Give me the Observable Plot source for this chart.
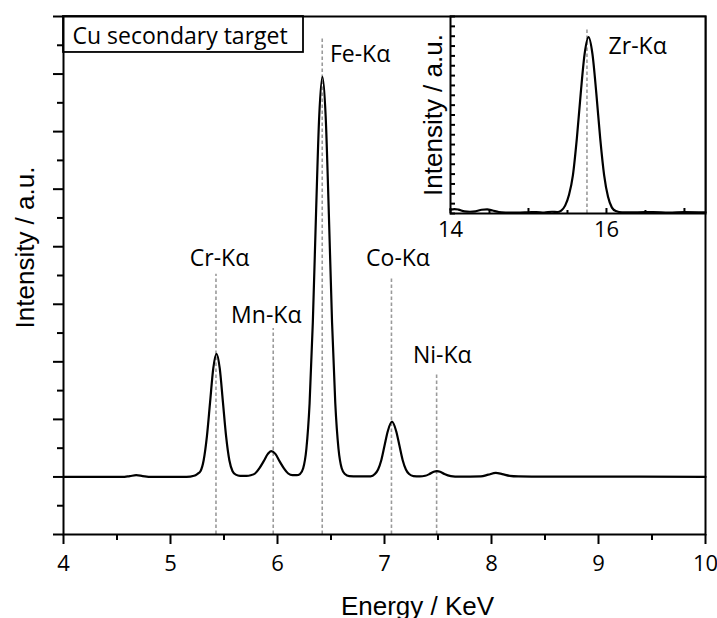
<!DOCTYPE html>
<html><head><meta charset="utf-8">
<script src="https://cdn.jsdelivr.net/npm/d3@7"></script>
<script src="https://cdn.jsdelivr.net/npm/@observablehq/plot@0.6"></script>
<style>
body{margin:0;background:#fff;}
#wrap{position:relative;width:717px;height:618px;overflow:hidden;background:#fff;}
#main{position:absolute;left:0;top:0;}
#inset{position:absolute;left:400px;top:0;}
</style></head>
<body><div id="wrap"><div id="main"></div><div id="inset"></div></div>
<script>
// ---- main spectrum (Energy keV, intensity a.u.) ----
const energy = [4.00,4.30,4.55,4.62,4.68,4.74,4.82,5.00,5.15,5.22,5.25,5.28,5.31,5.34,5.37,5.40,5.43,5.46,5.49,5.52,5.55,5.58,5.61,5.65,5.71,5.75,5.79,5.83,5.87,5.91,5.94,5.98,6.02,6.06,6.10,6.14,6.18,6.21,6.24,6.27,6.30,6.33,6.36,6.39,6.42,6.45,6.48,6.51,6.54,6.57,6.60,6.63,6.67,6.75,6.87,6.91,6.94,6.97,7.00,7.03,7.07,7.11,7.14,7.17,7.20,7.23,7.27,7.33,7.38,7.42,7.46,7.49,7.52,7.56,7.62,7.70,7.90,7.97,8.04,8.10,8.17,8.25,8.50,9.00,10.00];
const intensity = [0.00,0.00,0.00,0.015,0.03,0.015,0.00,0.00,0.00,0.02,0.05,0.10,0.29,0.70,1.30,1.89,2.14,1.89,1.30,0.70,0.29,0.10,0.04,0.02,0.02,0.03,0.06,0.15,0.27,0.40,0.45,0.40,0.27,0.15,0.06,0.03,0.03,0.05,0.15,0.49,1.28,2.68,4.57,6.27,6.95,6.27,4.57,2.68,1.28,0.49,0.15,0.05,0.015,0.01,0.01,0.05,0.13,0.29,0.54,0.79,0.96,0.79,0.54,0.29,0.13,0.05,0.015,0.01,0.02,0.05,0.09,0.10,0.09,0.05,0.015,0.005,0.01,0.04,0.07,0.05,0.02,0.01,0.005,0.005,0.00];

// ---- emission line markers ----
const lineNames = ["Cr-Kα","Mn-Kα","Fe-Kα","Co-Kα","Ni-Kα"];
const lineEnergy = [5.425,5.96,6.418,7.065,7.487];
const lineTop = [3.52,2.58,7.63,3.47,1.81];
const labelEnergy = [5.458,5.895,6.49,7.126,7.54];
const labelIntensity = [3.80,2.80,7.33,3.80,2.11];
const labelAnchor = ["middle","middle","start","middle","middle"];

// ---- main ticks ----
const xMajor = [4,5,6,7,8,9,10];
const xMinor = [4.5,5.5,6.5,7.5,8.5,9.5];
const yMajor = [-1,0,1,2,3,4,5,6,7,8];
const yMinor = [-0.5,0.5,1.5,2.5,3.5,4.5,5.5,6.5,7.5];

// ---- legend box ----
const boxTitle = "Cu secondary target";
const boxEnergy = [4, 6.243];
const boxIntensity = [7.375, 8];

// ---- inset spectrum ----
const insetEnergy = [14.00,14.05,14.10,14.18,14.25,14.32,14.40,14.47,14.54,14.62,14.72,14.85,15.00,15.10,15.20,15.30,15.37,15.42,15.47,15.52,15.57,15.62,15.67,15.72,15.77,15.82,15.87,15.92,15.97,16.02,16.07,16.12,16.20,16.40,16.60,16.80,17.00,17.27];
const insetIntensity = [0.40,0.45,0.40,0.22,0.18,0.22,0.38,0.42,0.30,0.15,0.10,0.08,0.12,0.15,0.10,0.18,0.15,0.30,0.80,1.90,3.90,7.60,12.2,16.2,17.9,16.2,12.2,7.60,3.90,1.70,0.60,0.25,0.12,0.12,0.15,0.10,0.15,0.12];
const insetLineName = "Zr-Kα";
const insetLineEnergy = 15.75;
const insetLineTop = 18.85;
const insetLabelEnergy = 16.40;
const insetLabelIntensity = 16.9;
const insetXMajor = [14,15,16,17];
const insetXMinor = [14.5,15.5,16.5];
const insetXLabels = [14,16];
const insetYTicks = [0,1,2,3,4,5,6,7,8,9,10,11,12,13,14,15,16,17,18,19,20];

const spectrum = energy.map((e,i)=>({e, v:intensity[i]}));
const lines = lineNames.map((n,i)=>({name:n, e:lineEnergy[i], top:lineTop[i], lx:labelEnergy[i], ly:labelIntensity[i], anchor:labelAnchor[i]}));
const insetSpec = insetEnergy.map((e,i)=>({e, v:insetIntensity[i]}));

const FONT = "Open Sans";
const AXF = "Liberation Sans";
const LF = 23;   // annotation font size
const TF = 22;   // tick label font size
const dash = {stroke:"#9a9a9a", strokeWidth:1.6, strokeDasharray:"3.5,2.5"};

const main = Plot.plot({
  width:717, height:618,
  marginLeft:63, marginRight:12, marginTop:16, marginBottom:84,
  style:{fontFamily:FONT, fontSize:TF+"px", background:"white", color:"black"},
  x:{domain:[4,10], label:null},
  y:{domain:[-1,8], label:null},
  marks:[
    Plot.ruleX(lines, {x:"e", y1:-1, y2:"top", ...dash}),
    Plot.line(spectrum, {x:"e", y:"v", stroke:"black", strokeWidth:2.2, curve:"monotone-x"}),
    Plot.rect([0], {x1:boxEnergy[0], x2:boxEnergy[1], y1:boxIntensity[0], y2:boxIntensity[1], stroke:"black", strokeWidth:1.8, fill:"white"}),
    Plot.text([boxTitle], {frameAnchor:"top-left", dx:9, dy:20, text:d=>d, textAnchor:"start", lineAnchor:"middle", fontSize:LF, fontFamily:FONT}),
    Plot.text(lines.filter(d=>d.anchor==="middle"), {x:"lx", y:"ly", text:"name", textAnchor:"middle", lineAnchor:"middle", fontSize:LF, fontFamily:FONT}),
    Plot.text(lines.filter(d=>d.anchor==="start"), {x:"lx", y:"ly", text:"name", textAnchor:"start", lineAnchor:"middle", fontSize:LF, fontFamily:FONT}),
    Plot.frame({stroke:"black", strokeWidth:2}),
    Plot.axisX({ticks:xMajor, tickSize:10, tickPadding:11, strokeWidth:2, label:null, tickFormat:d=>String(d), fontSize:TF, fontFamily:FONT}),
    Plot.axisX({ticks:xMinor, tickSize:6, strokeWidth:2, label:null, tickFormat:()=>""}),
    Plot.axisY({ticks:yMajor, tickSize:10, strokeWidth:2, label:null, tickFormat:()=>""}),
    Plot.axisY({ticks:yMinor, tickSize:6, strokeWidth:2, label:null, tickFormat:()=>""}),
    Plot.text(["Intensity / a.u."], {frameAnchor:"left", dx:-38, dy:-28, rotate:-90, text:d=>d, textAnchor:"middle", lineAnchor:"middle", fontSize:26, fontFamily:AXF}),
    Plot.text(["Energy / KeV"], {frameAnchor:"bottom", dx:33, dy:72, text:d=>d, textAnchor:"middle", lineAnchor:"middle", fontSize:26, fontFamily:AXF})
  ]
});
document.getElementById("main").appendChild(main);

const inset = Plot.plot({
  width:317, height:240,
  marginLeft:50, marginRight:12, marginTop:16, marginBottom:27,
  style:{fontFamily:FONT, fontSize:TF+"px", background:"transparent", color:"black", overflow:"visible"},
  x:{domain:[14,17.27], label:null},
  y:{domain:[0,20], label:null, axis:null},
  marks:[
    Plot.frame({fill:"white", stroke:"none"}),
    Plot.ruleX([insetLineEnergy], {x:d=>d, y1:0, y2:insetLineTop, ...dash}),
    Plot.line(insetSpec, {x:"e", y:"v", stroke:"black", strokeWidth:2.2, curve:"monotone-x"}),
    Plot.text([insetLineName], {x:insetLabelEnergy, y:insetLabelIntensity, text:d=>d, textAnchor:"middle", lineAnchor:"middle", fontSize:LF, fontFamily:FONT}),
    Plot.tickX(insetXMajor, {x:d=>d, insetTop:192, stroke:"black", strokeWidth:2}),
    Plot.tickX(insetXMinor, {x:d=>d, insetTop:194, stroke:"black", strokeWidth:2}),
    Plot.tickY(insetYTicks, {y:d=>d, insetRight:250, stroke:"black", strokeWidth:2}),
    Plot.frame({stroke:"black", strokeWidth:2}),
    Plot.axisX({ticks:insetXLabels, tickSize:0, tickPadding:8, label:null, tickFormat:d=>String(d), fontSize:TF, fontFamily:FONT}),
    Plot.text(["Intensity / a.u."], {frameAnchor:"left", dx:-17, dy:0, rotate:-90, text:d=>d, textAnchor:"middle", lineAnchor:"middle", fontSize:26, fontFamily:AXF})
  ]
});
document.getElementById("inset").appendChild(inset);
</script>
</body></html>
